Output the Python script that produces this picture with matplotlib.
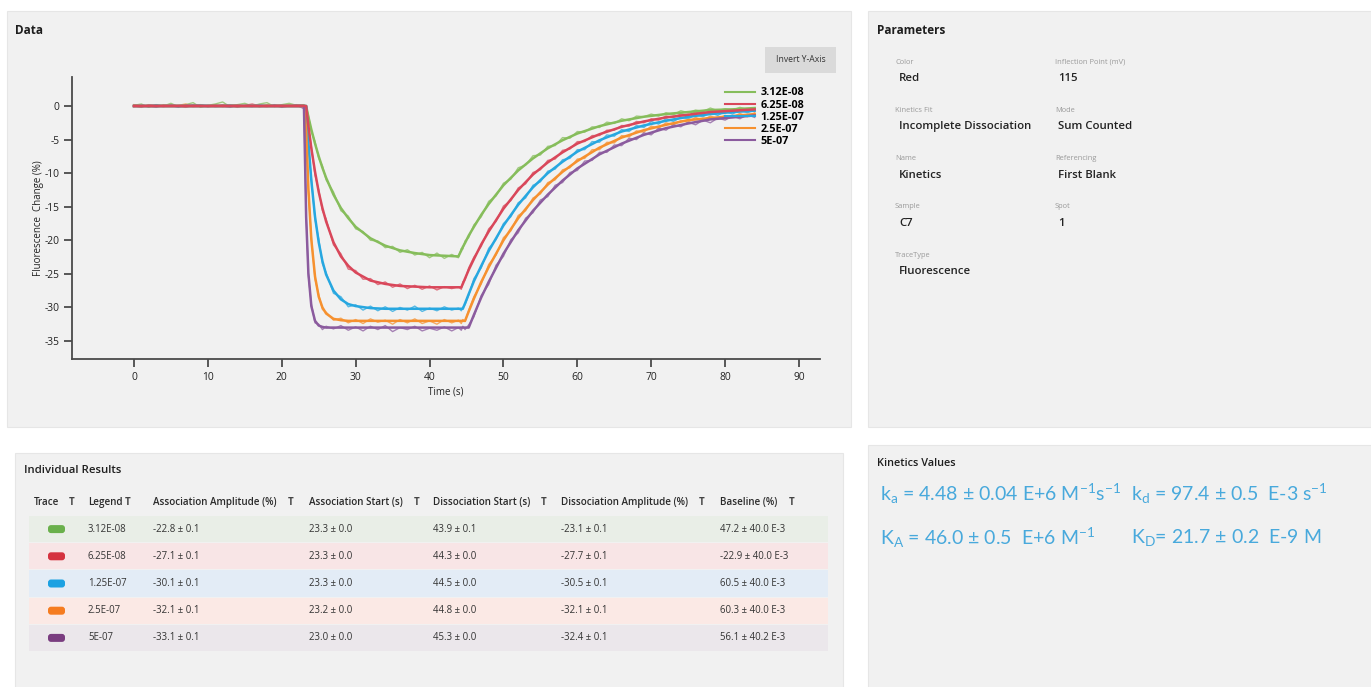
import matplotlib
matplotlib.use("Agg")
import matplotlib.pyplot as plt
from matplotlib.patches import Rectangle, FancyBboxPatch
from matplotlib.transforms import IdentityTransform

plt.rcParams['font.family'] = ['Open Sans', 'DejaVu Sans']
plt.rcParams['axes.unicode_minus'] = False
plt.rcParams['mathtext.fontset'] = 'custom'
plt.rcParams['mathtext.rm'] = 'Lato'
plt.rcParams['mathtext.it'] = 'Lato'
plt.rcParams['mathtext.default'] = 'regular'

# ---- chart data -------------------------------------------------------
concs = ["3.12E-08", "6.25E-08", "1.25E-07", "2.5E-07", "5E-07"]
fit_colors = ["#86bd5b", "#d9475a", "#27a7e0", "#f6912f", "#8b5b9e"]

t_fit = [0, 23.0, 23.3, 23.6, 24, 24.5, 25, 25.5, 26, 27, 28, 29, 30, 32, 34, 36, 38, 40, 42,
         43.9, 44.3, 44.5, 44.8, 45.3, 46, 47, 48, 50, 52, 54, 56, 58, 60, 63, 66, 69, 72, 75, 78, 81, 84]

fit_green = [0, 0, 0, -1.6, -3.5, -5.6, -7.5, -9.2, -10.7, -13.2, -15.2, -16.7, -18.0, -19.7, -20.8,
             -21.5, -21.9, -22.2, -22.3, -22.4, -21.5, -21.0, -20.4, -19.3, -18.0, -16.2, -14.6, -11.8,
             -9.6, -7.8, -6.3, -5.1, -4.1, -3.0, -2.2, -1.6, -1.2, -0.9, -0.6, -0.5, -0.3]
fit_red = [0, 0, 0, -2.9, -6.3, -9.8, -12.8, -15.2, -17.2, -20.3, -22.4, -23.8, -24.8, -26.0, -26.5,
           -26.8, -26.9, -27.0, -27.0, -27.0, -27.0, -26.5, -25.7, -24.4, -22.8, -20.6, -18.7, -15.3,
           -12.5, -10.2, -8.4, -6.9, -5.6, -4.2, -3.1, -2.3, -1.7, -1.3, -0.9, -0.7, -0.5]
fit_blue = [0, 0, 0, -5.4, -11.1, -16.5, -20.3, -23.1, -25.1, -27.5, -28.8, -29.5, -29.8, -30.1, -30.2,
            -30.2, -30.2, -30.2, -30.2, -30.2, -30.2, -30.2, -29.4, -28.0, -26.1, -23.8, -21.6, -17.8,
            -14.7, -12.1, -10.0, -8.3, -6.8, -5.1, -3.8, -2.9, -2.2, -1.6, -1.2, -0.9, -0.7]
fit_orange = [0, 0, -3.7, -12.3, -19.9, -25.4, -28.4, -30.0, -30.9, -31.7, -31.9, -32.0, -32.0, -32.0,
              -32.0, -32.0, -32.0, -32.0, -32.0, -32.0, -32.0, -32.0, -32.0, -30.6, -28.7, -26.2, -24.0,
              -20.0, -16.7, -14.0, -11.7, -9.8, -8.2, -6.2, -4.7, -3.6, -2.8, -2.1, -1.8, -1.5, -1.2]
fit_purple = [0, 0, -16.6, -24.9, -29.8, -32.0, -32.7, -32.9, -33.0, -33.0, -33.0, -33.0, -33.0, -33.0,
              -33.0, -33.0, -33.0, -33.0, -33.0, -33.0, -33.0, -33.0, -33.0, -33.0, -31.1, -28.5, -26.2,
              -22.0, -18.5, -15.6, -13.2, -11.1, -9.3, -7.2, -5.6, -4.3, -3.3, -2.6, -2.0, -1.7, -1.4]

t_raw = (list(range(0, 23)) + [23, 23.3, 23.6, 24, 24.5, 25, 25.5, 26] + list(range(27, 44))
         + [43.9, 44.3, 44.5, 44.8, 45.3] + list(range(46, 85)))

raw_green = ([0.1, 0.3, -0.2, 0.2, 0.0, 0.4, -0.1, 0.2, 0.5, -0.2, 0.1, 0.3, 0.6, -0.1, 0.2, 0.4, 0.0,
              0.3, 0.5, -0.1, 0.2, 0.4, 0.1]
             + [0.2, -0.1, -1.4, -3.8, -5.3, -7.8, -8.9, -11.0]
             + [-12.8, -15.6, -16.4, -18.3, -18.7, -20.0, -20.1, -21.1, -20.9, -21.8, -21.4, -22.2,
                -21.8, -22.6, -21.9, -22.7, -22.1]
             + [-22.6, -21.2, -21.3, -20.1, -19.6]
             + [-17.7, -16.5, -14.2, -13.4, -11.5, -10.9, -9.2, -8.8, -7.4, -7.3, -6.0, -5.9, -4.7,
                -4.8, -3.8, -3.9, -3.1, -3.2, -2.4, -2.6, -1.9, -2.2, -1.5, -1.6, -1.2, -1.5, -1.0,
                -1.3, -0.7, -1.0, -0.6, -0.8, -0.3, -0.7, -0.4, -0.6, -0.2, -0.5, -0.3])
raw_red = ([0.0, -0.2, 0.2, 0.1, -0.1, 0.2, 0.0, -0.2, 0.1, 0.2, -0.1, 0.0, 0.2, 0.1, -0.2, 0.1, 0.3,
            0.0, -0.1, 0.2, 0.1, 0.0, 0.2]
           + [0.1, 0.0, -3.2, -6.0, -10.3, -12.5, -15.6, -16.8]
           + [-20.7, -22.0, -24.3, -24.5, -25.8, -25.7, -26.6, -26.2, -27.0, -26.5, -27.2, -26.7,
              -27.3, -26.8, -27.4, -26.9, -27.2]
           + [-26.9, -27.3, -26.2, -25.9, -24.1]
           + [-22.5, -20.9, -18.3, -17.2, -14.9, -14.1, -12.2, -11.6, -9.9, -9.5, -8.1, -7.9, -6.6,
              -6.4, -5.3, -5.3, -4.4, -4.4, -3.6, -3.6, -2.9, -3.0, -2.3, -2.5, -1.9, -2.1, -1.5,
              -1.7, -1.2, -1.4, -0.9, -1.2, -0.7, -1.0, -0.6, -0.9, -0.4, -0.8, -0.4])
raw_blue = ([0.1, 0.0, -0.1, 0.2, 0.0, 0.1, -0.2, 0.1, 0.0, 0.2, 0.1, -0.1, 0.0, 0.2, 0.1, 0.0, -0.1,
             0.2, 0.0, 0.1, -0.1, 0.1, 0.0]
            + [0.0, -0.3, -5.9, -10.7, -16.9, -19.8, -23.5, -24.8]
            + [-27.9, -28.4, -29.9, -29.6, -30.4, -29.8, -30.5, -29.9, -30.6, -30.0, -30.4, -29.8,
               -30.6, -30.1, -30.5, -29.9, -30.4]
            + [-30.1, -30.5, -30.0, -29.6, -28.2]
            + [-25.7, -24.1, -21.2, -19.9, -17.5, -16.5, -14.4, -13.7, -11.8, -11.3, -9.7, -9.4, -8.0,
               -7.8, -6.5, -6.5, -5.3, -5.4, -4.3, -4.5, -3.5, -3.8, -2.9, -3.2, -2.3, -2.7, -1.9,
               -2.3, -1.7, -1.9, -1.3, -1.6, -1.0, -1.4, -0.8, -1.2, -0.6, -1.0, -0.6])
raw_orange = ([0.2, 0.0, 0.1, -0.1, 0.2, 0.0, 0.1, 0.3, -0.1, 0.1, 0.0, 0.2, -0.1, 0.1, 0.2, 0.0, 0.1,
               -0.1, 0.2, 0.0, 0.1, 0.2, 0.0]
              + [0.1, -3.4, -12.8, -19.5, -25.8, -28.1, -30.3, -30.7]
              + [-31.9, -31.6, -32.3, -31.8, -32.4, -31.7, -32.2, -31.9, -32.5, -31.8, -32.3, -31.7,
                 -32.4, -32.0, -32.5, -31.8, -32.3]
              + [-31.9, -32.4, -31.8, -32.1, -30.4]
              + [-28.4, -26.5, -23.6, -22.2, -19.6, -18.6, -16.3, -15.6, -13.7, -13.1, -11.4, -11.0,
                 -9.5, -9.2, -7.9, -7.8, -6.5, -6.5, -5.4, -5.5, -4.4, -4.6, -3.7, -3.9, -3.0, -3.3,
                 -2.5, -2.8, -2.2, -2.4, -1.7, -2.1, -1.5, -1.9, -1.4, -1.7, -1.1, -1.6, -1.0])
raw_purple = ([-0.1, 0.1, 0.0, -0.2, 0.1, 0.0, -0.1, 0.1, 0.2, 0.0, -0.1, 0.1, 0.0, -0.2, 0.1, 0.0,
               0.1, -0.1, 0.0, 0.1, -0.2, 0.0, 0.1]
              + [-0.4, -16.2, -25.3, -29.5, -32.3, -32.5, -33.3, -32.8]
              + [-33.2, -32.7, -33.4, -32.9, -33.5, -32.8, -33.3, -32.7, -33.6, -33.0, -33.3, -32.8,
                 -33.5, -33.1, -33.4, -32.9, -33.5]
              + [-33.0, -33.4, -32.8, -33.3, -32.6]
              + [-31.4, -28.2, -26.6, -23.7, -22.4, -19.9, -18.9, -16.7, -15.9, -14.0, -13.5, -11.8,
                 -11.4, -9.9, -9.6, -8.2, -8.1, -6.9, -6.9, -5.8, -5.9, -4.8, -5.0, -4.0, -4.3, -3.3,
                 -3.6, -2.8, -3.1, -2.4, -2.8, -2.1, -2.5, -1.8, -2.1, -1.5, -1.9, -1.3, -1.7])

fits = [fit_green, fit_red, fit_blue, fit_orange, fit_purple]
raws = [raw_green, raw_red, raw_blue, raw_orange, raw_purple]

# ---- parameters / results / kinetics ----------------------------------
param_labels = ["Color", "Kinetics Fit", "Name", "Sample", "TraceType"]
param_values = ["Red", "Incomplete Dissociation", "Kinetics", "C7", "Fluorescence"]
param_labels2 = ["Inflection Point (mV)", "Mode", "Referencing", "Spot"]
param_values2 = ["115", "Sum Counted", "First Blank", "1"]

headers = ["Trace", "Legend", "Association Amplitude (%)", "Association Start (s)",
           "Dissociation Start (s)", "Dissociation Amplitude (%)", "Baseline (%)"]
swatch_colors = ["#6ab04c", "#d5323f", "#1ba1e2", "#f57c20", "#7a3d80"]
row_colors = ["#e9eee7", "#f8e5e6", "#e3ecf6", "#fbe9e5", "#ebe7eb"]
assoc_amp = ["-22.8 ± 0.1", "-27.1 ± 0.1", "-30.1 ± 0.1", "-32.1 ± 0.1", "-33.1 ± 0.1"]
assoc_start = ["23.3 ± 0.0", "23.3 ± 0.0", "23.3 ± 0.0", "23.2 ± 0.0", "23.0 ± 0.0"]
dissoc_start = ["43.9 ± 0.1", "44.3 ± 0.0", "44.5 ± 0.0", "44.8 ± 0.0", "45.3 ± 0.0"]
dissoc_amp = ["-23.1 ± 0.1", "-27.7 ± 0.1", "-30.5 ± 0.1", "-32.1 ± 0.1", "-32.4 ± 0.1"]
baseline = ["47.2 ± 40.0 E-3", "-22.9 ± 40.0 E-3", "60.5 ± 40.0 E-3", "60.3 ± 40.0 E-3",
            "56.1 ± 40.2 E-3"]

kinetics = [r"k$_a$ = 4.48 ± 0.04 E+6 M$^{-1}$s$^{-1}$", r"k$_d$ = 97.4 ± 0.5  E-3 s$^{-1}$",
            r"K$_A$ = 46.0 ± 0.5  E+6 M$^{-1}$", r"K$_D$= 21.7 ± 0.2  E-9 M"]

# ---- layout helpers (pixel coordinates, y from top) -------------------
W, H = 1371, 687
fig = plt.figure(figsize=(W / 100, H / 100), dpi=100, facecolor="white")
px = IdentityTransform()


def box(x0, y0, x1, y1, color, z=-2, ec="none"):
    fig.add_artist(Rectangle((x0, H - y1), x1 - x0, y1 - y0, transform=px,
                             facecolor=color, edgecolor=ec, lw=0.8, zorder=z))


def txt(x, y, s, **kw):
    kw.setdefault("va", "center")
    kw.setdefault("ha", "left")
    fig.text(x, H - y, s, transform=px, **kw)


PANEL = "#f1f1f1"
box(7, 11, 851, 427, PANEL, ec="#e6e6e6")
box(868, 11, 1371, 427, PANEL, ec="#e6e6e6")
box(15, 453, 843, 690, PANEL, ec="#e6e6e6")
box(868, 445, 1371, 690, PANEL, ec="#e6e6e6")

# ---- Data panel ------------------------------------------------------
txt(15, 30, "Data", fontsize=8.5, fontweight="bold", color="#1e1e1e")

ax = fig.add_axes([72 / W, 1 - 359 / H, (820 - 72) / W, (359 - 77) / H])
ax.set_facecolor("none")
for raw, c in zip(raws, fit_colors):
    ax.plot(t_raw, raw, color=c, lw=1.0, alpha=0.75, zorder=2)
handles = []
for i, (fit, c) in enumerate(zip(fits, fit_colors)):
    ln, = ax.plot(t_fit, fit, color=c, lw=1.8, zorder=5 if i == 1 else 3)
    handles.append(ln)

ax.set_xlim(-8.39, 92.84)
ax.set_ylim(-37.68, 4.32)
ax.set_xticks([0, 10, 20, 30, 40, 50, 60, 70, 80, 90])
ax.set_yticks([0, -5, -10, -15, -20, -25, -30, -35])
for s in ["top", "right"]:
    ax.spines[s].set_visible(False)
for s in ["left", "bottom"]:
    ax.spines[s].set_color("#4a4a4a")
    ax.spines[s].set_linewidth(1.3)
ax.tick_params(direction="out", length=6, width=1.3, color="#4a4a4a", labelsize=7.4,
               labelcolor="#222222", pad=3)
ax.set_xlabel("Time (s)", fontsize=7, color="#222222", labelpad=3)
ax.set_ylabel("Fluorescence  Change (%)", fontsize=7, color="#222222", labelpad=0.5)

leg = ax.legend(handles, concs, loc="upper left", bbox_to_anchor=(0.873, 0.963),
                frameon=False, prop={"weight": "bold", "size": 7.8}, handlelength=2.8,
                handletextpad=0.5, labelspacing=0.1, borderpad=0, borderaxespad=0)
for h in leg.legend_handles:
    h.set_linewidth(1.5)

box(765, 47, 836, 73, "#dadada", z=4)
txt(800.5, 60, "Invert Y-Axis", fontsize=6.2, color="#333333", ha="center", zorder=5)

# ---- Parameters panel -------------------------------------------------
txt(877, 30, "Parameters", fontsize=8.5, fontweight="bold", color="#1e1e1e")
for i, (lab, val) in enumerate(zip(param_labels, param_values)):
    y = 62 + 48.3 * i
    txt(895, y, lab, fontsize=5.4, color="#9a9a9a")
    txt(899, y + 16.5, val, fontsize=8.2, fontweight="semibold", color="#222222")
for i, (lab, val) in enumerate(zip(param_labels2, param_values2)):
    y = 62 + 48.3 * i
    txt(1055, y, lab, fontsize=5.4, color="#9a9a9a")
    txt(1058, y + 16.5, val, fontsize=8.2, fontweight="semibold", color="#222222")

# ---- Individual Results table ------------------------------------------
txt(24, 470.5, "Individual Results", fontsize=8.2, fontweight="semibold", color="#1e1e1e")
head_x = [34, 88, 153, 309, 433, 561, 720]
icon_x = [71.5, 128, 291, 417, 544, 702, 792]
for hx, ix, hname in zip(head_x, icon_x, headers):
    txt(hx, 502.5, hname, fontsize=7.1, fontweight="semibold", color="#2a2a2a")
    txt(ix, 502.5, "T", fontsize=7, fontweight="bold", color="#444444", ha="center")

cols = [concs, assoc_amp, assoc_start, dissoc_start, dissoc_amp, baseline]
for r in range(len(concs)):
    y0 = 516 + 27.2 * r
    box(29, y0, 828, y0 + 26.2, row_colors[r], z=-1)
    yc = y0 + 13.1
    fig.add_artist(FancyBboxPatch((48, H - yc - 4), 17, 8, boxstyle="round,pad=0,rounding_size=3",
                                  transform=px, facecolor=swatch_colors[r], edgecolor="none",
                                  zorder=2))
    for cx, col in zip(head_x[1:], cols):
        txt(cx, yc, col[r], fontsize=6.9, color="#333333")

# ---- Kinetics Values panel -------------------------------------------
txt(877, 463.5, "Kinetics Values", fontsize=7.8, fontweight="semibold", color="#1e1e1e")
kin_pos = [(880, 494), (1131, 494), (880, 538), (1131, 538)]
for (kx, ky), s in zip(kin_pos, kinetics):
    txt(kx, ky, s, fontsize=14, color="#48a9dc", family="Lato")

fig.savefig("out.png", dpi=100, facecolor="white")
